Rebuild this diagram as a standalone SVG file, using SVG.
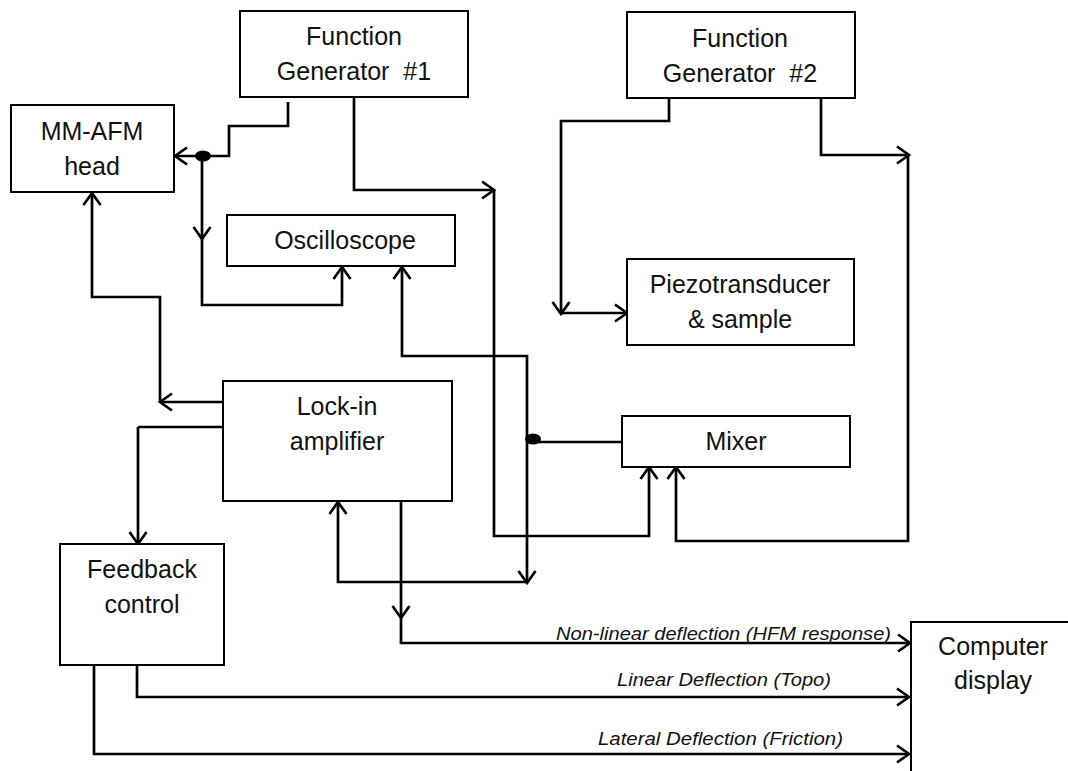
<svg xmlns="http://www.w3.org/2000/svg" width="1068" height="771" viewBox="0 0 1068 771">
<style>
.box{fill:#fff;stroke:#000;stroke-width:2}
.t{font-family:"Liberation Sans",Arial,sans-serif;font-size:25px;fill:#111;text-anchor:middle}
.lbl{font-family:"Liberation Sans",Arial,sans-serif;font-size:19px;font-style:italic;fill:#111}
.c{fill:none;stroke:#000;stroke-width:2.7;stroke-linejoin:miter}
</style>
<defs>
<marker id="arr" viewBox="-1 -10 16 20" refX="11" refY="0" markerWidth="16" markerHeight="20" markerUnits="userSpaceOnUse" orient="auto">
<path d="M0,-8.5 L12,0 L0,8.5" fill="none" stroke="#000" stroke-width="2.7"/>
</marker>
</defs>
<rect width="1068" height="771" fill="#fff"/>
<g id="connectors">
<polyline class="c" points="288,102 288,126 229,126 229,156 176,156" marker-end="url(#arr)"/>
<line class="c" x1="202" y1="156" x2="202" y2="238" marker-end="url(#arr)"/>
<polyline class="c" points="202,238 202,305 342,305 342,268" marker-end="url(#arr)"/>
<polyline class="c" points="354,97 354,190 493,190" marker-end="url(#arr)"/>
<polyline class="c" points="494,190 494,536 649,536 649,468" marker-end="url(#arr)"/>
<polyline class="c" points="669,98 669,121 561,121 561,313" marker-end="url(#arr)"/>
<line class="c" x1="561" y1="313" x2="626" y2="313" marker-end="url(#arr)"/>
<polyline class="c" points="821,96 821,155 908,155" marker-end="url(#arr)"/>
<polyline class="c" points="908,155 908,541 676,541 676,468" marker-end="url(#arr)"/>
<line class="c" x1="622" y1="442" x2="530" y2="442"/>
<polyline class="c" points="527,439 527,356 402,356 402,268" marker-end="url(#arr)"/>
<line class="c" x1="527" y1="439" x2="527" y2="582" marker-end="url(#arr)"/>
<polyline class="c" points="527,582 338,582 338,503" marker-end="url(#arr)"/>
<line class="c" x1="223" y1="402" x2="161" y2="402" marker-end="url(#arr)"/>
<polyline class="c" points="160,402 160,297 92,297 92,194" marker-end="url(#arr)"/>
<polyline class="c" points="226,427 138,427"/>
<line class="c" x1="138" y1="427" x2="138" y2="543" stroke-width="4" marker-end="url(#arr)"/>
<line class="c" x1="401" y1="501" x2="401" y2="617" marker-end="url(#arr)"/>
<polyline class="c" points="401,617 401,643 909,643" marker-end="url(#arr)"/>
<polyline class="c" points="137,665 137,697 908,697" marker-end="url(#arr)"/>
<polyline class="c" points="94,665 94,754 908,754" marker-end="url(#arr)"/>
<ellipse cx="203" cy="156" rx="8" ry="5.5" fill="#000"/>
<ellipse cx="533" cy="439" rx="8" ry="5.5" fill="#000"/>
<text class="lbl" x="556" y="640" textLength="335" lengthAdjust="spacingAndGlyphs">Non-linear deflection (HFM response)</text>
<text class="lbl" x="617" y="686" textLength="214" lengthAdjust="spacingAndGlyphs">Linear Deflection (Topo)</text>
<text class="lbl" x="598" y="745" textLength="245" lengthAdjust="spacingAndGlyphs">Lateral Deflection (Friction)</text>
</g>
<g id="fg1">
<rect class="box" x="240" y="11" width="228" height="86"/>
<text class="t" x="354" y="45">Function</text>
<text class="t" x="354" y="80" xml:space="preserve">Generator  #1</text>
</g>
<g id="fg2">
<rect class="box" x="627" y="12" width="228" height="86"/>
<text class="t" x="740" y="47">Function</text>
<text class="t" x="740" y="82" xml:space="preserve">Generator  #2</text>
</g>
<g id="mmafm">
<rect class="box" x="11" y="105" width="163" height="87"/>
<text class="t" x="92" y="140">MM-AFM</text>
<text class="t" x="92" y="175">head</text>
</g>
<g id="oscilloscope">
<rect class="box" x="227" y="215" width="228" height="51"/>
<text class="t" x="345" y="249">Oscilloscope</text>
</g>
<g id="piezo">
<rect class="box" x="627" y="259" width="227" height="86"/>
<text class="t" x="740" y="293">Piezotransducer</text>
<text class="t" x="740" y="328">&amp; sample</text>
</g>
<g id="lockin">
<rect class="box" x="223" y="381" width="229" height="120"/>
<text class="t" x="337" y="415">Lock-in</text>
<text class="t" x="337" y="450">amplifier</text>
</g>
<g id="mixer">
<rect class="box" x="622" y="416" width="228" height="51"/>
<text class="t" x="736" y="450">Mixer</text>
</g>
<g id="feedback">
<rect class="box" x="60" y="544" width="164" height="121"/>
<text class="t" x="142" y="578">Feedback</text>
<text class="t" x="142" y="613">control</text>
</g>
<g id="computer">
<rect class="box" x="911" y="622" width="200" height="200"/>
<text class="t" x="993" y="655">Computer</text>
<text class="t" x="993" y="689">display</text>
</g>
</svg>
